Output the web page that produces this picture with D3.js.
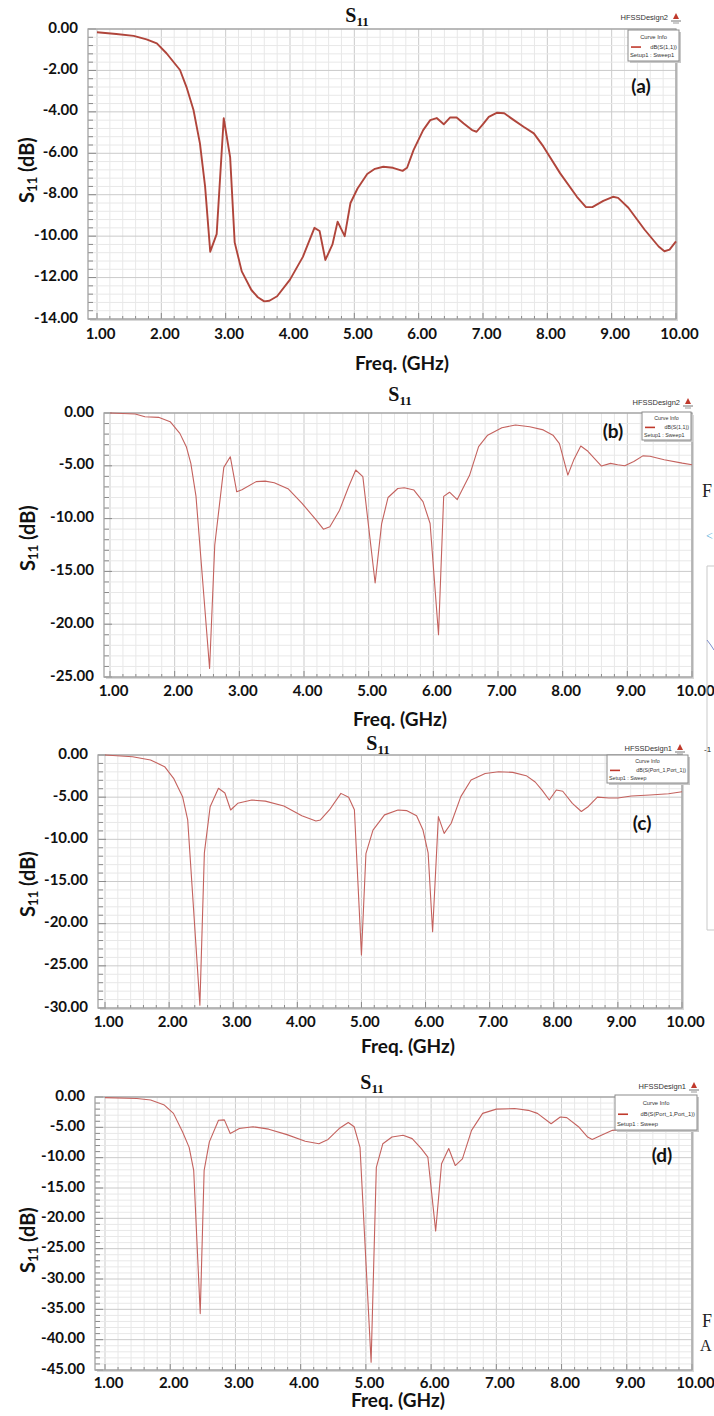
<!DOCTYPE html>
<html><head><meta charset="utf-8">
<script src="https://cdn.jsdelivr.net/npm/d3@7"></script>
<style>
body{margin:0;background:#fff}
svg{display:block}
</style></head><body>
<svg id="fig" width="714" height="1416"></svg>
<script>
// ---- Frequency axis (shared) ----
const xTickValues = [1,2,3,4,5,6,7,8,9,10];
const xTickLabels = ["1.00","2.00","3.00","4.00","5.00","6.00","7.00","8.00","9.00","10.00"];

// ---- (a) ----
const freqA = [1.0,1.3,1.57,1.77,1.93,2.08,2.29,2.39,2.5,2.6,2.68,2.76,2.86,2.97,3.07,3.14,3.25,3.4,3.5,3.6,3.68,3.8,4.0,4.2,4.38,4.46,4.55,4.66,4.74,4.85,4.94,5.05,5.2,5.32,5.45,5.6,5.75,5.82,5.92,6.07,6.18,6.28,6.39,6.49,6.59,6.7,6.83,6.9,7.01,7.09,7.22,7.33,7.48,7.63,7.79,7.94,8.2,8.46,8.6,8.7,8.87,9.02,9.1,9.26,9.51,9.73,9.82,9.9,10.0];
const s11A  = [-0.16,-0.24,-0.33,-0.5,-0.69,-1.17,-1.98,-2.79,-3.91,-5.52,-7.6,-10.75,-9.9,-4.31,-6.2,-10.3,-11.7,-12.6,-12.95,-13.15,-13.12,-12.9,-12.1,-11.0,-9.6,-9.75,-11.15,-10.4,-9.3,-10.0,-8.4,-7.7,-7.0,-6.75,-6.65,-6.7,-6.85,-6.7,-5.85,-4.88,-4.4,-4.3,-4.6,-4.27,-4.27,-4.56,-4.88,-4.96,-4.56,-4.24,-4.04,-4.07,-4.4,-4.72,-5.04,-5.68,-6.97,-8.1,-8.6,-8.6,-8.3,-8.1,-8.15,-8.63,-9.68,-10.5,-10.73,-10.65,-10.25];
const yTicksA = [0,-2,-4,-6,-8,-10,-12,-14];
const yTickLabelsA = ["0.00","-2.00","-4.00","-6.00","-8.00","-10.00","-12.00","-14.00"];

// ---- (b) ----
const freqB = [1.0,1.39,1.54,1.75,1.93,2.08,2.18,2.25,2.33,2.54,2.62,2.76,2.86,2.96,3.04,3.26,3.4,3.54,3.76,3.97,4.19,4.3,4.4,4.55,4.69,4.8,4.91,5.1,5.2,5.3,5.45,5.55,5.7,5.84,5.95,6.08,6.16,6.25,6.37,6.56,6.7,6.84,7.06,7.27,7.49,7.7,7.85,7.95,8.08,8.17,8.28,8.38,8.49,8.6,8.74,8.85,8.96,9.1,9.24,9.35,9.57,9.85,10.0];
const s11B  = [0,-0.09,-0.35,-0.41,-0.82,-1.93,-3.19,-4.77,-7.9,-24.2,-12.5,-5.15,-4.14,-7.46,-7.26,-6.5,-6.45,-6.6,-7.2,-8.56,-10.14,-11.0,-10.78,-9.2,-6.98,-5.4,-6.03,-16.1,-10.5,-8.0,-7.15,-7.08,-7.3,-8.4,-10.46,-21.0,-7.9,-7.5,-8.2,-5.9,-3.19,-2.1,-1.39,-1.14,-1.3,-1.6,-2.1,-2.9,-5.88,-4.46,-3.13,-3.57,-4.3,-5.02,-4.77,-4.9,-5.0,-4.6,-4.06,-4.1,-4.43,-4.75,-4.9];
const yTicksB = [0,-5,-10,-15,-20,-25];
const yTickLabelsB = ["0.00","-5.00","-10.00","-15.00","-20.00","-25.00"];

// ---- (c) ----
const freqC = [1.0,1.43,1.71,1.93,2.07,2.21,2.29,2.48,2.55,2.64,2.77,2.87,2.96,3.07,3.29,3.5,3.79,4.07,4.29,4.36,4.5,4.68,4.8,4.89,5.0,5.07,5.18,5.36,5.57,5.71,5.86,5.96,6.04,6.11,6.2,6.29,6.4,6.55,6.71,6.93,7.14,7.36,7.57,7.71,7.82,7.93,8.04,8.14,8.29,8.43,8.54,8.68,8.86,9.0,9.21,9.5,9.79,10.0];
const s11C  = [0,-0.2,-0.59,-1.38,-2.77,-4.94,-7.7,-29.66,-11.6,-6.13,-3.95,-4.5,-6.52,-5.73,-5.34,-5.47,-6.05,-7.2,-7.83,-7.7,-6.52,-4.55,-5.0,-6.5,-23.7,-11.7,-8.9,-7.1,-6.52,-6.6,-7.2,-8.9,-11.6,-20.96,-7.3,-9.3,-8.1,-4.94,-2.97,-2.2,-1.98,-2.06,-2.45,-3.2,-4.2,-5.34,-4.15,-4.3,-5.73,-6.7,-6.1,-5.0,-5.1,-5.1,-4.86,-4.74,-4.6,-4.35];
const yTicksC = [0,-5,-10,-15,-20,-25,-30];
const yTickLabelsC = ["0.00","-5.00","-10.00","-15.00","-20.00","-25.00","-30.00"];

// ---- (d) ----
const freqD = [1.0,1.49,1.7,1.91,2.05,2.19,2.29,2.36,2.46,2.52,2.6,2.74,2.83,2.92,3.06,3.27,3.51,3.79,4.07,4.28,4.42,4.59,4.73,4.82,4.91,5.08,5.16,5.26,5.4,5.57,5.71,5.85,5.95,6.07,6.16,6.27,6.37,6.48,6.62,6.79,7.0,7.28,7.49,7.63,7.84,7.98,8.08,8.26,8.4,8.47,8.61,8.78,8.89,9.0,9.3,9.6,10.0];
const s11D  = [-0.1,-0.25,-0.5,-1.33,-2.7,-5.76,-8.3,-12.1,-35.7,-12.1,-7.4,-3.82,-3.77,-6.03,-5.2,-4.9,-5.3,-6.2,-7.3,-7.7,-7.0,-5.2,-4.2,-4.9,-8.3,-43.7,-11.6,-7.7,-6.6,-6.3,-6.86,-8.5,-9.9,-22.1,-11.0,-8.5,-11.3,-10.2,-5.5,-2.7,-2.0,-1.9,-2.2,-2.7,-4.4,-3.3,-3.4,-4.9,-6.6,-7.0,-6.3,-5.5,-5.4,-5.0,-4.6,-4.5,-4.3];
const yTicksD = [0,-5,-10,-15,-20,-25,-30,-35,-40,-45];
const yTickLabelsD = ["0.00","-5.00","-10.00","-15.00","-20.00","-25.00","-30.00","-35.00","-40.00","-45.00"];

const svg = d3.select("#fig");
const FONT = "Lato, 'Open Sans', sans-serif";

function drawPanel(p) {
  const g = svg.append("g");
  const x = d3.scaleLinear().domain([1, 10]).range([p.x1, p.right]);
  const yMin = p.yTicks[p.yTicks.length - 1];
  const y = d3.scaleLinear().domain([yMin, 0]).range([p.bottom, p.top]);
  const yStep = p.yTicks[0] - p.yTicks[1];

  // plot background with a soft shadow
  g.append("rect").attr("x", p.left + 2).attr("y", p.top + 2)
    .attr("width", p.right - p.left).attr("height", p.bottom - p.top)
    .attr("fill", "#d8d8d8");
  g.append("rect").attr("x", p.left).attr("y", p.top)
    .attr("width", p.right - p.left).attr("height", p.bottom - p.top)
    .attr("fill", "#fff");

  // minor + major grid
  const xMinor = d3.range(1, 10.0001, 0.2);
  const yMinor = d3.range(0, yMin - 1e-6, -yStep / 5);
  const isMajorX = d => Math.abs(d - Math.round(d)) < 1e-6;
  const isMajorY = d => Math.abs(d / yStep - Math.round(d / yStep)) < 1e-6;
  g.append("g").selectAll("line").data(xMinor).join("line")
    .attr("x1", d => x(d)).attr("x2", d => x(d))
    .attr("y1", p.top).attr("y2", p.bottom)
    .attr("stroke", d => isMajorX(d) ? "#cbcbcb" : "#e8e8e8")
    .attr("stroke-width", 1);
  g.append("g").selectAll("line").data(yMinor).join("line")
    .attr("x1", p.left).attr("x2", p.right)
    .attr("y1", d => y(d)).attr("y2", d => y(d))
    .attr("stroke", d => isMajorY(d) ? "#cbcbcb" : "#e8e8e8")
    .attr("stroke-width", 1);

  // inner tick marks along left and bottom edges
  g.append("g").selectAll("line").data(yMinor).join("line")
    .attr("x1", p.left).attr("x2", d => isMajorY(d) ? p.left + 8 : p.left + 5)
    .attr("y1", d => y(d)).attr("y2", d => y(d))
    .attr("stroke", "#8a8a8a").attr("stroke-width", 1);
  g.append("g").selectAll("line").data(xMinor).join("line")
    .attr("x1", d => x(d)).attr("x2", d => x(d))
    .attr("y1", p.bottom).attr("y2", d => isMajorX(d) ? p.bottom - 6 : p.bottom - 3)
    .attr("stroke", "#8a8a8a").attr("stroke-width", 1);

  // frame
  g.append("rect").attr("x", p.left).attr("y", p.top)
    .attr("width", p.right - p.left).attr("height", p.bottom - p.top)
    .attr("fill", "none").attr("stroke", "#a4a4a4").attr("stroke-width", 1.3);

  // S11 trace
  const pts = p.freq.map((f, i) => [f, p.s11[i]]);
  g.append("path").datum(pts)
    .attr("d", d3.line().x(d => x(d[0])).y(d => y(d[1])))
    .attr("fill", "none").attr("stroke", p.color).attr("stroke-width", p.lw)
    .attr("stroke-linejoin", "round");

  // axes (labels only)
  const ax = g.append("g").attr("transform", `translate(0,${p.bottom})`)
    .call(d3.axisBottom(x).tickValues(xTickValues)
      .tickFormat((d, i) => xTickLabels[i]).tickSize(0).tickPadding(p.xPad));
  ax.select(".domain").remove();
  ax.selectAll("text").attr("font-family", FONT).attr("font-weight", 700)
    .attr("font-size", 15).attr("fill", "#111").attr("dx", 3);

  const ay = g.append("g").attr("transform", `translate(${p.left},0)`)
    .call(d3.axisLeft(y).tickValues(p.yTicks)
      .tickFormat((d, i) => p.yTickLabels[i]).tickSize(0).tickPadding(10));
  ay.select(".domain").remove();
  ay.selectAll("text").attr("font-family", FONT).attr("font-weight", 700)
    .attr("font-size", 15).attr("fill", "#111").attr("dy", "0.2em");

  // axis titles
  g.append("text").attr("x", p.xTitle[0]).attr("y", p.xTitle[1])
    .attr("text-anchor", "middle").attr("dominant-baseline", "middle")
    .attr("font-family", FONT).attr("font-weight", 700).attr("font-size", 19)
    .attr("fill", "#111").text("Freq. (GHz)");

  const yt = g.append("text")
    .attr("transform", `translate(${p.yTitle[0]},${p.yTitle[1]}) rotate(-90)`)
    .attr("text-anchor", "middle").attr("dominant-baseline", "middle")
    .attr("font-family", FONT).attr("font-weight", 700).attr("font-size", 20)
    .attr("fill", "#111");
  yt.append("tspan").text("S");
  yt.append("tspan").attr("font-size", 13).attr("dy", 5).text("11");
  yt.append("tspan").attr("dy", -5).text(" (dB)");

  // chart title S11
  const tt = g.append("text").attr("x", p.title[0]).attr("y", p.title[1])
    .attr("text-anchor", "middle")
    .attr("font-family", "'Liberation Serif', 'DejaVu Serif', serif").attr("font-weight", 700)
    .attr("font-size", 20).attr("fill", "#111");
  tt.append("tspan").text("S");
  tt.append("tspan").attr("font-size", 13).attr("dy", 4).text("11");

  // design name + icon
  g.append("text").attr("x", p.design[0]).attr("y", p.design[1])
    .attr("text-anchor", "end").attr("font-family", "'Liberation Sans', Arial, sans-serif")
    .attr("font-size", 7.5).attr("fill", "#333").text(p.designName);
  const ix = p.design[0] + 8, iy = p.design[1];
  g.append("path").attr("d", `M${ix - 3},${iy - 1}L${ix},${iy - 7}L${ix + 3},${iy - 1}Z`).attr("fill", "#c0392b");
  g.append("line").attr("x1", ix - 5).attr("x2", ix + 5).attr("y1", iy + 1).attr("y2", iy + 1)
    .attr("stroke", "#777").attr("stroke-width", 1);
  g.append("line").attr("x1", ix - 3).attr("x2", ix + 3).attr("y1", iy + 3).attr("y2", iy + 3)
    .attr("stroke", "#999").attr("stroke-width", 1);

  // curve info box
  const [lx, ly, lw, lh] = p.legend;
  g.append("rect").attr("x", lx + 2).attr("y", ly + 2).attr("width", lw).attr("height", lh).attr("fill", "#c8c8c8");
  g.append("rect").attr("x", lx).attr("y", ly).attr("width", lw).attr("height", lh)
    .attr("fill", "#fff").attr("stroke", "#8c8c8c").attr("stroke-width", 1);
  const fs = p.legendFont;
  g.append("text").attr("x", lx + lw / 2).attr("y", ly + lh * 0.28)
    .attr("text-anchor", "middle").attr("font-family", "'Liberation Sans', Arial, sans-serif")
    .attr("font-size", fs).attr("fill", "#333").text("Curve Info");
  g.append("line").attr("x1", lx + 3).attr("x2", lx + 13).attr("y1", ly + lh * 0.55).attr("y2", ly + lh * 0.55)
    .attr("stroke", "#c0392b").attr("stroke-width", 1.6);
  g.append("text").attr("x", lx + lw - 2).attr("y", ly + lh * 0.6)
    .attr("text-anchor", "end").attr("font-family", "'Liberation Sans', Arial, sans-serif")
    .attr("font-size", fs).attr("fill", "#333").text(p.traceName);
  g.append("text").attr("x", lx + 2).attr("y", ly + lh * 0.88)
    .attr("font-family", "'Liberation Sans', Arial, sans-serif")
    .attr("font-size", fs).attr("fill", "#333").text(p.sweepName);

  // panel letter
  g.append("text").attr("x", p.tag[0]).attr("y", p.tag[1])
    .attr("text-anchor", "middle").attr("dominant-baseline", "middle")
    .attr("font-family", FONT).attr("font-weight", 700).attr("font-size", 19)
    .attr("fill", "#111").text(p.tagText);
}

drawPanel({
  freq: freqA, s11: s11A, yTicks: yTicksA, yTickLabels: yTickLabelsA,
  left: 88, x1: 97, right: 676, top: 29, bottom: 319, xPad: 9,
  color: "#b0453b", lw: 1.9,
  xTitle: [402, 365], yTitle: [29, 170], title: [357, 22],
  designName: "HFSSDesign2", design: [668, 20],
  legend: [628, 30, 51, 31], legendFont: 5.8,
  traceName: "dB(S(1,1))", sweepName: "Setup1 : Sweep1",
  tag: [641, 88], tagText: "(a)"
});

drawPanel({
  freq: freqB, s11: s11B, yTicks: yTicksB, yTickLabels: yTickLabelsB,
  left: 104, x1: 110, right: 692, top: 413, bottom: 677, xPad: 8,
  color: "#c4625e", lw: 1.1,
  xTitle: [400, 721], yTitle: [30, 538], title: [400, 401],
  designName: "HFSSDesign2", design: [680, 405],
  legend: [642, 412, 49, 28], legendFont: 5.3,
  traceName: "dB(S(1,1))", sweepName: "Setup1 : Sweep1",
  tag: [613, 433], tagText: "(b)"
});

drawPanel({
  freq: freqC, s11: s11C, yTicks: yTicksC, yTickLabels: yTickLabelsC,
  left: 98, x1: 105, right: 682, top: 755, bottom: 1008, xPad: 8,
  color: "#c4625e", lw: 1.1,
  xTitle: [408, 1048], yTitle: [30, 884], title: [378, 750],
  designName: "HFSSDesign1", design: [672, 751],
  legend: [607, 755, 81, 28], legendFont: 5.3,
  traceName: "dB(S(Port_1,Port_1))", sweepName: "Setup1 : Sweep",
  tag: [642, 825], tagText: "(c)"
});

drawPanel({
  freq: freqD, s11: s11D, yTicks: yTicksD, yTickLabels: yTickLabelsD,
  left: 95, x1: 105, right: 692, top: 1097, bottom: 1370, xPad: 7,
  color: "#c4625e", lw: 1.1,
  xTitle: [398, 1402], yTitle: [30, 1240], title: [372, 1089],
  designName: "HFSSDesign1", design: [686, 1089],
  legend: [615, 1095, 82, 35], legendFont: 5.8,
  traceName: "dB(S(Port_1,Port_1))", sweepName: "Setup1 : Sweep",
  tag: [662, 1157], tagText: "(d)"
});

// neighbouring page content at the right margin
const edge = svg.append("g").attr("font-family", "'Liberation Serif', serif").attr("fill", "#222");
edge.append("text").attr("x", 702).attr("y", 497).attr("font-size", 18).text("F");
edge.append("text").attr("x", 702).attr("y", 1327).attr("font-size", 18).text("F");
edge.append("text").attr("x", 700).attr("y", 1351).attr("font-size", 16).text("A");
edge.append("text").attr("x", 706).attr("y", 540).attr("font-size", 12).attr("fill", "#4aa8d8").text("<");
edge.append("path").attr("d", "M714,566H707V930H714").attr("fill", "none").attr("stroke", "#c9c9c9");
edge.append("path").attr("d", "M707,640Q711,645 714,650").attr("fill", "none").attr("stroke", "#7c8ccc");
edge.append("text").attr("x", 704).attr("y", 752).attr("font-size", 8).attr("font-family", "Arial").text("-1");
</script>
</body></html>
